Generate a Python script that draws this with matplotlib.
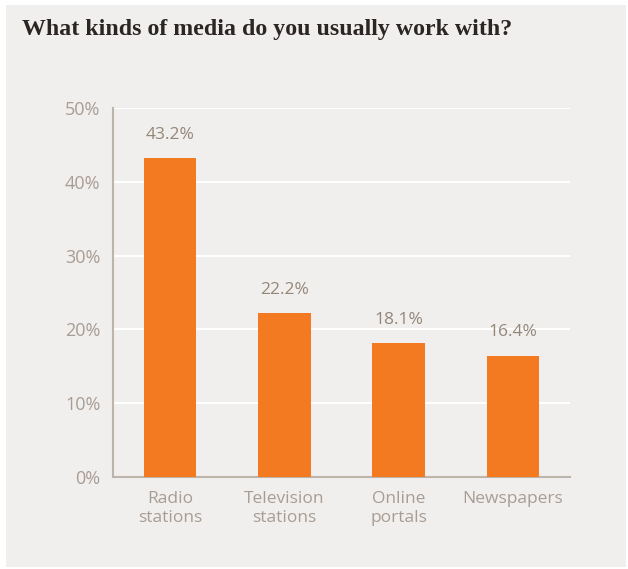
import matplotlib.pyplot as plt

categories = ["Radio\nstations", "Television\nstations", "Online\nportals", "Newspapers"]
shares = [43.2, 22.2, 18.1, 16.4]
y_ticks = [0, 10, 20, 30, 40, 50]

PANEL = "#f1efed"
ORANGE = "#f47a22"
AXIS_GREY = "#bdb4ac"
TICK_GREY = "#a89d94"
LABEL_GREY = "#948779"

fig = plt.figure(figsize=(6.28, 5.69), dpi=100)
fig.patch.set_facecolor("white")

# grey card behind everything
bg = fig.add_axes([6 / 628, 2 / 569, 620 / 628, 562 / 569], zorder=-1)
bg.set_facecolor(PANEL)
bg.set_xticks([])
bg.set_yticks([])
for s in bg.spines.values():
    s.set_visible(False)

fig.text(22 / 628, 1 - 29 / 569, "What kinds of media do you usually work with?",
         fontsize=17.2, fontweight="bold", family="Liberation Serif", color="#2b2624",
         va="center", ha="left")

ax = fig.add_axes([113 / 628, 1 - 477 / 569, 457 / 628, 369 / 569])
ax.set_facecolor("none")
x = range(len(categories))
ax.bar(x, shares, width=0.46, color=ORANGE, zorder=3)
for xi, v in zip(x, shares):
    ax.annotate(f"{v:.1f}%", xy=(xi, v), xytext=(0, 17), textcoords="offset points",
                ha="center", va="center", fontsize=12.5, color=LABEL_GREY, family="Open Sans")

ax.set_xlim(-0.5, 3.5)
ax.set_ylim(0, 50)
ax.set_yticks(y_ticks)
ax.set_yticklabels([f"{t}%" for t in y_ticks], family="Open Sans", fontsize=13, color=TICK_GREY)
ax.set_xticks(list(x))
ax.set_xticklabels(categories, family="Open Sans", fontsize=12.5, color=TICK_GREY, linespacing=1.3)
ax.tick_params(length=0)
ax.tick_params(axis="y", pad=9)
ax.tick_params(axis="x", pad=10)
ax.grid(axis="y", color="white", lw=1.5, zorder=1)
for side in ("top", "right"):
    ax.spines[side].set_visible(False)
for side in ("left", "bottom"):
    ax.spines[side].set_color(AXIS_GREY)
    ax.spines[side].set_linewidth(1.5)

fig.savefig("out.png", dpi=100, facecolor=fig.get_facecolor())
